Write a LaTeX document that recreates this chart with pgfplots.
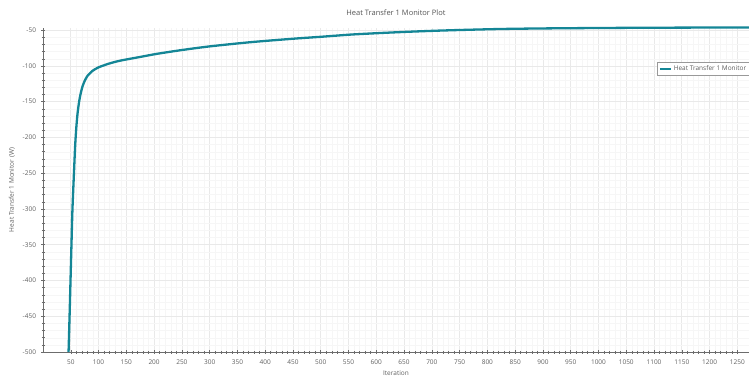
\documentclass[border=0pt]{standalone}
\usepackage{fontspec}
\setmainfont{Open Sans}
\usepackage{pgfplots}
\pgfplotsset{compat=1.18}
\definecolor{curve}{RGB}{20,134,150}
\definecolor{txt}{RGB}{95,95,95}
\begin{document}
\begin{tikzpicture}
\useasboundingbox (0,0) rectangle (749pt,376pt);
\begin{axis}[
  at={(43pt,24pt)}, anchor=south west,
  scale only axis, width=706pt, height=324pt,
  xmin=0, xmax=1271, ymin=-500, ymax=-47,
  clip=false,
  axis x line*=bottom, axis y line*=left,
  axis line style={-, draw=gray!85!black, line width=0.6pt},
  xtick={50,100,...,1250},
  ytick={-500,-450,...,-50},
  minor x tick num=4, minor y tick num=4,
  tick align=center,
  major tick length=4pt, minor tick length=3pt,
  every tick/.style={draw=gray!85!black, line width=0.5pt},
  grid=both,
  major grid style={draw=gray!17, line width=0.6pt},
  minor grid style={draw=gray!7, line width=0.4pt},
  /pgf/number format/assume math mode=true,
  /pgf/number format/1000 sep={},
  tick label style={font=\fontsize{6.5}{7}\selectfont, text=txt},
  xticklabel style={anchor=center, yshift=-8.5pt},
  yticklabel style={anchor=east, xshift=-1.5pt},
  title={Heat Transfer 1 Monitor Plot},
  every axis title shift=0pt,
  title style={at={(axis description cs:0.5,1.046)}, anchor=center, yshift=0pt, font=\fontsize{7.5}{8}\selectfont, text=txt!90!black},
  xlabel={Iteration},
  xlabel style={at={(axis description cs:0.5,-0.066)}, anchor=center, font=\fontsize{6.5}{7}\selectfont, text=txt},
  ylabel={Heat Transfer 1 Monitor (W)},
  ylabel style={at={(axis description cs:-0.044,0.5)}, anchor=center, font=\fontsize{6.5}{7}\selectfont, text=txt},
  legend style={at={(axis description cs:0.87,0.895)}, anchor=north west,
    font=\fontsize{6.5}{7}\selectfont, text=txt, draw=gray!80, line width=0.5pt,
    inner sep=1.5pt, row sep=0pt},
  legend cell align=left,
  legend image code/.code={\draw[#1, line width=1.8pt] (0pt,0pt) -- (11pt,0pt);},
]
\addplot[curve, line width=2.3pt, smooth, tension=0.45] coordinates {
(46,-500) (48,-445) (51,-357) (53,-301) (56,-245) (58,-210) (60,-186)
(62,-168) (65,-150) (68,-138) (71,-129) (75,-121) (80,-114) (89,-107)
(100,-102) (120,-96.5) (140,-92.5) (176,-87.3) (206,-83)
(250,-77.8) (300,-72.7) (374,-66.8) (450,-62) (500,-59.3) (554,-56.2)
(600,-54.3) (650,-52.5) (700,-51) (750,-49.8) (823,-48.4) (900,-47.6)
(1000,-47) (1100,-46.6) (1271,-46.2)
};
\addlegendentry{Heat Transfer 1 Monitor}
\end{axis}
\end{tikzpicture}
\end{document}
